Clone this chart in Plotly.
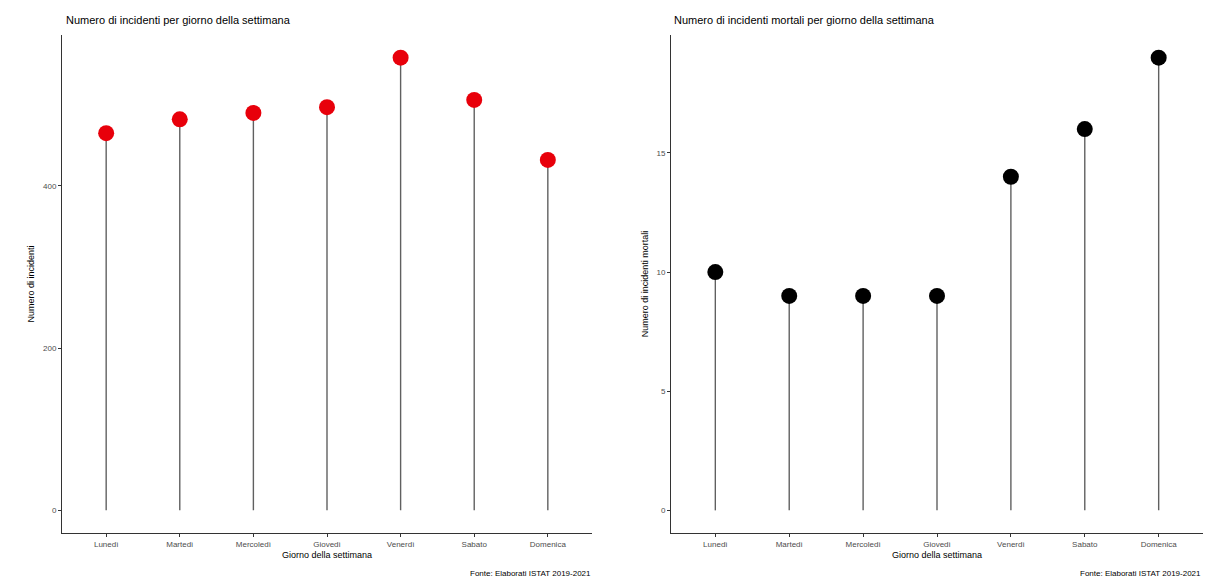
import plotly.graph_objects as go

giorni = ["Lunedì", "Martedì", "Mercoledì", "Giovedì", "Venerdì", "Sabato", "Domenica"]
incidenti = [465, 482, 490, 497, 558, 506, 432]
incidenti_mortali = [10, 9, 9, 9, 14, 16, 19]

left_ticks = [0, 200, 400]
right_ticks = [0, 5, 10, 15]

W, H = 1211, 581
FONT = "Liberation Sans, Arial, sans-serif"

def stems(vals):
    xs, ys = [], []
    for g, v in zip(giorni, vals):
        xs += [g, g, None]
        ys += [0, v, None]
    return xs, ys

fig = go.Figure()

sx, sy = stems(incidenti)
fig.add_trace(go.Scatter(x=sx, y=sy, mode="lines", line=dict(color="#606060", width=1.4),
                         xaxis="x", yaxis="y", showlegend=False, hoverinfo="skip"))
fig.add_trace(go.Scatter(x=giorni, y=incidenti, mode="markers",
                         marker=dict(color="#e8000b", size=16, line=dict(width=0)),
                         xaxis="x", yaxis="y", showlegend=False))

sx2, sy2 = stems(incidenti_mortali)
fig.add_trace(go.Scatter(x=sx2, y=sy2, mode="lines", line=dict(color="#606060", width=1.4),
                         xaxis="x2", yaxis="y2", showlegend=False, hoverinfo="skip"))
fig.add_trace(go.Scatter(x=giorni, y=incidenti_mortali, mode="markers",
                         marker=dict(color="#000000", size=16, line=dict(width=0)),
                         xaxis="x2", yaxis="y2", showlegend=False))

ydom = [1 - 533 / H, 1 - 35 / H]

axis_common = dict(showgrid=False, zeroline=False, showline=True, linecolor="#333333",
                   linewidth=1, ticks="outside", ticklen=3, tickcolor="#333333",
                   tickfont=dict(family=FONT, size=8, color="#4d4d4d"))

fig.update_layout(
    width=W, height=H,
    margin=dict(l=0, r=0, t=0, b=0),
    paper_bgcolor="white", plot_bgcolor="white",
    font=dict(family=FONT),
    xaxis=dict(domain=[62 / W, 592 / W], anchor="y", type="category",
               categoryorder="array", categoryarray=giorni, range=[-0.6, 6.6],
               title=dict(text="Giorno della settimana", font=dict(family=FONT, size=9, color="#000"), standoff=4),
               **axis_common),
    yaxis=dict(domain=ydom, anchor="x", range=[-27.9, 586], tickvals=left_ticks,
               title=dict(text="Numero di incidenti", font=dict(family=FONT, size=9, color="#000"), standoff=6),
               **axis_common),
    xaxis2=dict(domain=[671 / W, 1203 / W], anchor="y2", type="category",
                categoryorder="array", categoryarray=giorni, range=[-0.6, 6.6],
                title=dict(text="Giorno della settimana", font=dict(family=FONT, size=9, color="#000"), standoff=4),
                **axis_common),
    yaxis2=dict(domain=ydom, anchor="x2", range=[-0.95, 19.95], tickvals=right_ticks,
                title=dict(text="Numero di incidenti mortali", font=dict(family=FONT, size=9, color="#000"), standoff=6),
                **axis_common),
    annotations=[
        dict(text="Numero di incidenti per giorno della settimana", x=64 / W, y=1 - 20 / H,
             xref="paper", yref="paper", xanchor="left", yanchor="middle", showarrow=False,
             font=dict(family=FONT, size=11, color="#000")),
        dict(text="Numero di incidenti mortali per giorno della settimana", x=672 / W, y=1 - 20 / H,
             xref="paper", yref="paper", xanchor="left", yanchor="middle", showarrow=False,
             font=dict(family=FONT, size=11, color="#000")),
        dict(text="Fonte: Elaborati ISTAT 2019-2021", x=593 / W, y=1 - 573 / H,
             xref="paper", yref="paper", xanchor="right", yanchor="middle", showarrow=False,
             font=dict(family=FONT, size=8, color="#000")),
        dict(text="Fonte: Elaborati ISTAT 2019-2021", x=1203 / W, y=1 - 573 / H,
             xref="paper", yref="paper", xanchor="right", yanchor="middle", showarrow=False,
             font=dict(family=FONT, size=8, color="#000")),
    ],
)

fig.write_html("out.html", config={"displayModeBar": False},
               post_script="document.body.style.margin='0';document.body.style.padding='0';document.body.style.overflow='hidden';")
